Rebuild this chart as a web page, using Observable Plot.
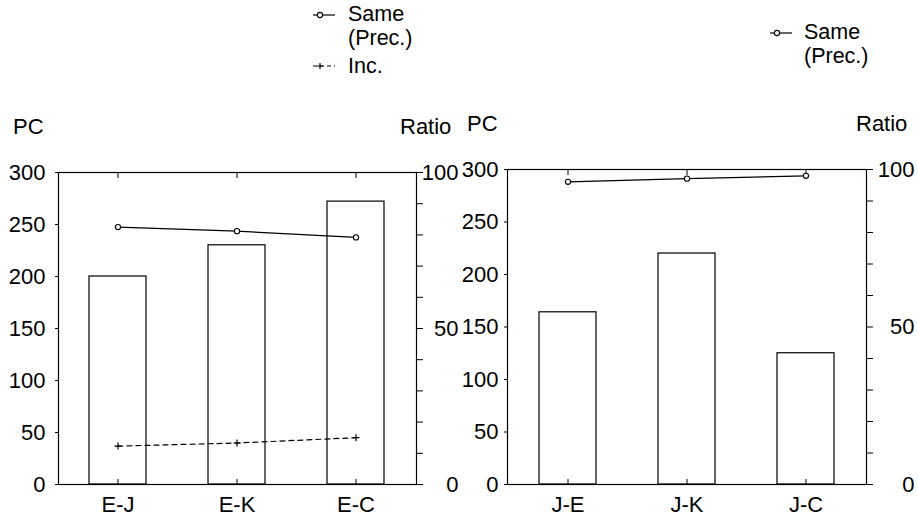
<!DOCTYPE html>
<html><head><meta charset="utf-8">
<script src="https://cdn.jsdelivr.net/npm/d3@7"></script>
<script src="https://cdn.jsdelivr.net/npm/@observablehq/plot@0.6"></script>
<style>
body{margin:0;background:#fff;}
#wrap{position:relative;width:918px;height:517px;font-family:"Liberation Sans",Arial,sans-serif;color:#000;overflow:hidden;}
.abs{position:absolute;white-space:nowrap;line-height:1;}
.lab{font-size:22px;}
.leg{font-size:21.5px;}
.panel{position:absolute;top:0;}
</style></head><body><div id="wrap"></div>
<script>
// ---- data ----
const leftCategories = ["E-J", "E-K", "E-C"];
const leftPC = [200, 230, 272];
const leftSame = [82.5, 81.2, 79.2];
const leftInc = [12.3, 13.3, 15.0];

const rightCategories = ["J-E", "J-K", "J-C"];
const rightPC = [164, 220, 125];
const rightSame = [96.1, 97.1, 98.0];

const pcTicks = [0, 50, 100, 150, 200, 250, 300];
const ratioLabelTicks = [0, 50, 100];
const ratioMinorTicks = [0, 10, 20, 30, 40, 50, 60, 70, 80, 90, 100];
const pcMax = 300;
const ratioMax = 100;
const K = pcMax / ratioMax;

const seriesNames = ["Same\n(Prec.)", "Inc."];

const plusSymbol = {
  draw(ctx, size) {
    const r = Math.sqrt(size / Math.PI);
    ctx.moveTo(-r, 0); ctx.lineTo(r, 0);
    ctx.moveTo(0, -r); ctx.lineTo(0, r);
  }
};
const noText = () => "";

function panel({categories, pc, series, marginLeft, marginRight, marginTop, leftPad, rightPad}) {
  const bars = categories.map((c, i) => ({cat: c, pc: pc[i]}));
  const marks = [
    Plot.barY(bars, {x: "cat", y: "pc", fill: "white", stroke: "black", strokeWidth: 1.2}),
    Plot.frame({stroke: "black", strokeWidth: 1.2}),
    Plot.axisX({anchor: "bottom", tickSize: 0, tickPadding: 12, label: null}),
    Plot.axisX({anchor: "bottom", tickSize: 5, dy: -5, tickFormat: noText, label: null}),
    Plot.axisX({anchor: "top", tickSize: 5, dy: 5, tickFormat: noText, label: null}),
    Plot.axisY({anchor: "left", ticks: pcTicks, tickSize: 3, tickPadding: leftPad, label: null}),
    Plot.axisY({anchor: "right", ticks: ratioMinorTicks.map(v => v * K), tickSize: 6, tickFormat: noText, label: null}),
    Plot.axisY({anchor: "right", ticks: ratioLabelTicks.map(v => v * K), tickSize: 0, tickPadding: rightPad, textAnchor: "end", tickFormat: d => String(d / K), label: null})
  ];
  for (const s of series) {
    const pts = categories.map((c, i) => ({cat: c, v: s.values[i]}));
    marks.push(Plot.line(pts, {x: "cat", y: d => d.v * K, stroke: "black", strokeWidth: 1.2, strokeDasharray: s.dash}));
    if (s.symbol === "plus") {
      marks.push(Plot.dot(pts, {x: "cat", y: d => d.v * K, symbol: plusSymbol, r: 3.5, fill: "none", stroke: "black", strokeWidth: 1.2}));
    } else {
      marks.push(Plot.dot(pts, {x: "cat", y: d => d.v * K, symbol: "circle", r: 2.6, fill: "white", stroke: "black", strokeWidth: 1.1}));
    }
  }
  return Plot.plot({
    width: 459,
    height: 517,
    marginLeft, marginRight, marginTop,
    marginBottom: 33,
    x: {type: "band", domain: categories, paddingInner: 0.52, paddingOuter: 0.26},
    y: {domain: [0, pcMax]},
    style: {fontSize: "22px", fontFamily: "'Liberation Sans', Arial, sans-serif", color: "black", background: "transparent", overflow: "visible"},
    marks
  });
}

const wrap = document.getElementById("wrap");

const p1 = panel({
  categories: leftCategories, pc: leftPC,
  series: [{values: leftSame, dash: null, symbol: "circle"}, {values: leftInc, dash: "5,4", symbol: "plus"}],
  marginLeft: 58, marginRight: 43, marginTop: 172, leftPad: 10, rightPad: 42
});
const d1 = document.createElement("div"); d1.className = "panel"; d1.style.left = "0px"; d1.appendChild(p1); wrap.appendChild(d1);

const p2 = panel({
  categories: rightCategories, pc: rightPC,
  series: [{values: rightSame, dash: null, symbol: "circle"}],
  marginLeft: 48, marginRight: 52, marginTop: 169, leftPad: 6, rightPad: 48
});
const d2 = document.createElement("div"); d2.className = "panel"; d2.style.left = "459px"; d2.appendChild(p2); wrap.appendChild(d2);

function addText(txt, cls, left, top) {
  const e = document.createElement("div");
  e.className = "abs " + cls;
  e.style.left = left + "px"; e.style.top = top + "px";
  e.textContent = txt;
  wrap.appendChild(e);
}
function addSwatch(left, cy, symbol, dash) {
  const ns = "http://www.w3.org/2000/svg";
  const s = document.createElementNS(ns, "svg");
  s.setAttribute("width", 24); s.setAttribute("height", 10);
  s.style.position = "absolute"; s.style.left = left + "px"; s.style.top = (cy - 5) + "px";
  const l = document.createElementNS(ns, "line");
  l.setAttribute("x1", 0); l.setAttribute("x2", 22); l.setAttribute("y1", 5); l.setAttribute("y2", 5);
  l.setAttribute("stroke", "black"); l.setAttribute("stroke-width", 1.2);
  if (dash) l.setAttribute("stroke-dasharray", dash);
  s.appendChild(l);
  if (symbol === "plus") {
    const p = document.createElementNS(ns, "path");
    p.setAttribute("d", "M4,5h6M7,2v6");
    p.setAttribute("stroke", "black"); p.setAttribute("stroke-width", 1.2);
    s.appendChild(p);
  } else {
    const c = document.createElementNS(ns, "circle");
    c.setAttribute("cx", 7); c.setAttribute("cy", 5); c.setAttribute("r", 2.6);
    c.setAttribute("fill", "white"); c.setAttribute("stroke", "black"); c.setAttribute("stroke-width", 1.1);
    s.appendChild(c);
  }
  wrap.appendChild(s);
}

const [sameName, incName] = seriesNames;
const sameLines = sameName.split("\n");
addSwatch(313, 15, "circle", null);
addText(sameLines[0], "leg", 348, 4);
addText(sameLines[1], "leg", 348, 28);
addSwatch(313, 66, "plus", "4,3");
addText(incName, "leg", 348, 56);
addSwatch(770, 33, "circle", null);
addText(sameLines[0], "leg", 804, 22);
addText(sameLines[1], "leg", 804, 46);

addText("PC", "lab", 13, 116);
addText("Ratio", "lab", 400, 116);
addText("PC", "lab", 467, 113);
addText("Ratio", "lab", 856, 113);
</script>
</body></html>
